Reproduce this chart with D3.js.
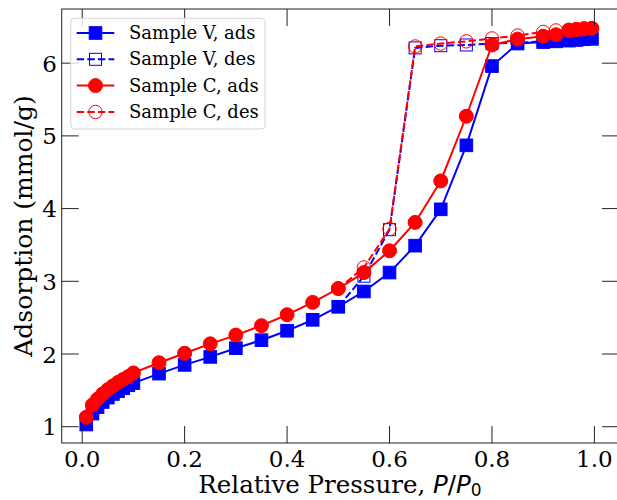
<!DOCTYPE html>
<html><head><meta charset="utf-8">
<script src="https://cdn.jsdelivr.net/npm/d3@7"></script>
<style>body{margin:0;background:#fff}svg{display:block}</style>
</head><body>
<svg id="c" width="617" height="500"></svg>
<script>
const adsX = [0.008,0.02,0.03,0.04,0.05,0.06,0.07,0.08,0.09,0.10,0.15,0.2,0.25,0.3,0.35,0.4,0.45,0.5,0.55,0.6,0.65,0.7,0.75,0.8,0.85,0.9,0.925,0.95,0.965,0.98,0.995];
const vAds = [1.03,1.18,1.27,1.34,1.40,1.45,1.49,1.53,1.57,1.60,1.73,1.85,1.96,2.08,2.19,2.32,2.47,2.65,2.86,3.12,3.49,3.99,4.87,5.96,6.27,6.29,6.30,6.31,6.32,6.33,6.34];
const cAds = [1.13,1.30,1.38,1.45,1.51,1.56,1.61,1.65,1.69,1.74,1.88,2.01,2.14,2.26,2.39,2.54,2.71,2.90,3.12,3.42,3.81,4.38,5.27,6.25,6.33,6.37,6.39,6.45,6.46,6.47,6.48];
const desX = [0.995,0.98,0.965,0.95,0.925,0.9,0.85,0.8,0.75,0.7,0.65,0.6,0.55,0.5];
const vDes = [6.33,6.33,6.32,6.32,6.31,6.30,6.28,6.27,6.25,6.24,6.21,3.71,3.07,2.65];
const cDes = [6.48,6.48,6.47,6.46,6.45,6.43,6.38,6.34,6.30,6.27,6.23,3.72,3.19,2.90];
const xTicks = [0.0,0.2,0.4,0.6,0.8,1.0];
const yTicks = [1,2,3,4,5,6];
const legendLabels = ["Sample V, ads","Sample V, des","Sample C, ads","Sample C, des"];

const svg = d3.select("#c");
const L=61.7, R=619, T=9, B=443;
const x = d3.scaleLinear().domain([-0.04,1.048]).range([L,R]);
const y = d3.scaleLinear().domain([0.776,6.745]).range([B,T]);
const font = "'DejaVu Serif', serif";

svg.append("defs").append("clipPath").attr("id","clip")
  .append("rect").attr("x",L).attr("y",T).attr("width",R-L).attr("height",B-T);

const plot = svg.append("g").attr("clip-path","url(#clip)");
const line = d3.line().x(d=>x(d[0])).y(d=>y(d[1]));
const series = [
  {xs:adsX, ys:vAds, color:"#0000ff", dash:null, marker:"square", filled:true},
  {xs:desX, ys:vDes, color:"#0000ff", dash:"7.4,3.2", marker:"square", filled:false},
  {xs:adsX, ys:cAds, color:"#ff0000", dash:null, marker:"circle", filled:true},
  {xs:desX, ys:cDes, color:"#ff0000", dash:"7.4,3.2", marker:"circle", filled:false}
];
function drawMarker(g, s, cx, cy){
  if(s.marker==="square"){
    const h = s.filled?6.3:6;
    g.append("rect").attr("x",cx-h).attr("y",cy-h).attr("width",2*h).attr("height",2*h)
      .attr("fill",s.filled?s.color:"none").attr("stroke",s.color).attr("stroke-width",1);
  } else {
    g.append("circle").attr("cx",cx).attr("cy",cy).attr("r",s.filled?7:6.7)
      .attr("fill",s.filled?s.color:"none").attr("stroke",s.color).attr("stroke-width",1);
  }
}
series.forEach(s=>{
  const pts = s.xs.map((v,i)=>[v,s.ys[i]]);
  plot.append("path").attr("d",line(pts)).attr("fill","none").attr("stroke",s.color)
    .attr("stroke-width",2).attr("stroke-dasharray",s.dash);
  const g = plot.append("g");
  pts.forEach(p=>drawMarker(g,s,x(p[0]),y(p[1])));
});

// axes frame
const ax = svg.append("g").attr("stroke","#222").attr("stroke-width",1);
ax.append("rect").attr("x",L).attr("y",T).attr("width",R-L).attr("height",B-T).attr("fill","none");
const TL=17;
xTicks.forEach(t=>{
  ax.append("line").attr("x1",x(t)).attr("x2",x(t)).attr("y1",B).attr("y2",B-TL);
  ax.append("line").attr("x1",x(t)).attr("x2",x(t)).attr("y1",T).attr("y2",T+TL);
});
yTicks.forEach(t=>{
  ax.append("line").attr("x1",L).attr("x2",L+TL).attr("y1",y(t)).attr("y2",y(t));
  ax.append("line").attr("x1",R).attr("x2",R-TL).attr("y1",y(t)).attr("y2",y(t));
});
const fmt = d3.format(".1f");
svg.append("g").selectAll("text").data(xTicks).join("text")
  .attr("x",d=>x(d)).attr("y",467).attr("text-anchor","middle")
  .attr("font-family",font).attr("font-size",23).attr("fill","#000").text(d=>fmt(d));
svg.append("g").selectAll("text").data(yTicks).join("text")
  .attr("x",57).attr("y",d=>y(d)+8.5).attr("text-anchor","end")
  .attr("font-family",font).attr("font-size",23).attr("fill","#000").text(d=>d);

// axis labels
const xl = svg.append("text").attr("x",340).attr("y",493).attr("text-anchor","middle")
  .attr("font-family",font).attr("font-size",24.5).attr("fill","#000");
xl.append("tspan").text("Relative Pressure, ");
xl.append("tspan").attr("font-family","'DejaVu Sans', sans-serif").attr("font-style","italic").text("P");
xl.append("tspan").attr("font-family","'DejaVu Sans', sans-serif").text("/");
xl.append("tspan").attr("font-family","'DejaVu Sans', sans-serif").attr("font-style","italic").text("P");
xl.append("tspan").attr("font-family","'DejaVu Sans', sans-serif").attr("font-size",17).attr("dy",3).text("0");
svg.append("text").attr("transform",`translate(32,${(T+B)/2}) rotate(-90)`).attr("text-anchor","middle")
  .attr("font-family",font).attr("font-size",25).attr("fill","#000").text("Adsorption (mmol/g)");

// legend
const lg = svg.append("g");
lg.append("rect").attr("x",70.7).attr("y",18.3).attr("width",194.3).attr("height",110.7).attr("rx",4)
  .attr("fill","#fff").attr("fill-opacity",0.8).attr("stroke","#d6d6d6").attr("stroke-width",1);
series.forEach((s,i)=>{
  const cy = 33 + i*26.3;
  lg.append("line").attr("x1",76.7).attr("x2",114.3).attr("y1",cy).attr("y2",cy)
    .attr("stroke",s.color).attr("stroke-width",2).attr("stroke-dasharray",s.dash);
  drawMarker(lg,s,95.5,cy);
  lg.append("text").attr("x",129).attr("y",cy+6).attr("font-family",font).attr("font-size",18)
    .attr("fill","#000").text(legendLabels[i]);
});
</script>
</body></html>
